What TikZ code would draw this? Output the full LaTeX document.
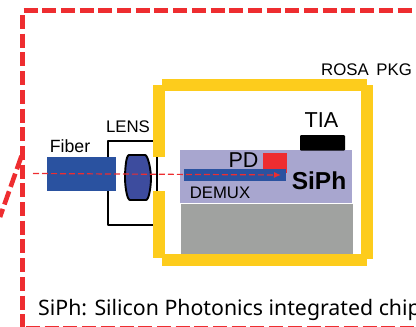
\documentclass[tikz,border=0pt]{standalone}
\usepackage{fontspec}
\setmainfont{Liberation Sans}
\newfontfamily\notefont{Noto Sans}
\usetikzlibrary{arrows.meta}
\definecolor{redline}{HTML}{EE2D30}
\definecolor{pkg}{HTML}{FDCC1C}
\definecolor{fiberblue}{HTML}{2A52A0}
\definecolor{lensblue}{HTML}{3D4C9E}
\definecolor{siph}{HTML}{A8A6CF}
\definecolor{base}{HTML}{A0A2A0}
\tikzset{
  x=1pt,y=-1pt,
  lbl/.style={inner sep=0pt,anchor=center,text=black},
  pkgbar/.style={fill=pkg,draw=none},
  border/.style={draw=redline,line width=4.6pt,dash pattern=on 14pt off 4.7pt},
  holder/.style={draw=black,line width=1.9pt,line join=round},
  beam/.style={draw=redline,line width=1.2pt,dash pattern=on 6pt off 3pt}
}
\begin{document}
\begin{tikzpicture}
\useasboundingbox (0,0) rectangle (416,327);
\clip (0,0) rectangle (416,327);
% outer border
\draw[border] (23.5,10.5) -- (416,10.5);
\draw[border] (22.5,15) -- (22.5,327);
\draw[border] (21.5,156) -- (0,217);
\draw[draw=redline,line width=1pt,dash pattern=on 14pt off 4.7pt] (26,326.5) -- (416,326.5);
% lens holder
\draw[holder] (153,141) -- (108,141) -- (108,225) -- (153,225);
\draw[holder] (157,155) -- (157,193);
% fiber
\fill[fiberblue] (47,157) rectangle (116,191);
% lens
\draw[fill=lensblue,draw=black,line width=1.9pt,line join=round]
  (129,155) -- (145,155) .. controls (148,155) and (151,170) .. (151,178)
  .. controls (151,186) and (149,200) .. (146,200)
  -- (130,200) .. controls (127,200) and (125,186) .. (125,178)
  .. controls (125,170) and (126,155) .. (129,155) -- cycle;
% package
\fill[pkgbar] (153,85) rectangle (165,157);
\fill[pkgbar] (153,191) rectangle (165,258);
\fill[pkgbar] (162,79) rectangle (367,91);
\fill[pkgbar] (361,85) rectangle (373,259);
\fill[pkgbar] (162,254) rectangle (367,265.5);
% chip stack
\fill[base] (181,204) rectangle (353,254);
\fill[siph] (180,150) rectangle (352,203);
\fill[black,rounded corners=1pt] (300,135) rectangle (345,150.5);
\fill[redline] (263,153) rectangle (287,173);
\fill[fiberblue] (184,169) rectangle (286,181);
% beam
\coordinate (beamstart) at (33,173.5);
\coordinate (beamend) at (281,175);
\draw[beam,-{Latex[length=7pt,width=6pt]}] (beamstart) -- (beamend);
% labels
\node[lbl,font=\fontsize{17.7}{17.7}\selectfont] (fiberlabel) at (70,146) {Fiber};
\node[lbl,font=\fontsize{16.8}{16.8}\selectfont] (lenslabel) at (128,126.5) {LENS};
\node[lbl,font=\fontsize{16.8}{16.8}\selectfont,text width=110pt,align=center] (rosalabel) at (366.5,69.5) {ROSA\hspace{2pt} PKG};
\node[lbl,font=\fontsize{21.6}{21.6}\selectfont] (tialabel) at (321.5,120.5) {TIA};
\node[lbl,font=\fontsize{21.5}{21.5}\selectfont] (pdlabel) at (243.5,160.5) {PD};
\node[lbl,font=\fontsize{16.7}{16.7}\selectfont] (demuxlabel) at (220,193) {DEMUX};
\node[lbl,font=\fontsize{24.5}{24.5}\selectfont\bfseries] (siphlabel) at (319,181) {SiPh};
\node[lbl,anchor=west,font=\notefont\fontsize{21.3}{21.3}\selectfont] (note) at (38,310) {SiPh: Silicon Photonics integrated chip};
\end{tikzpicture}
\end{document}
